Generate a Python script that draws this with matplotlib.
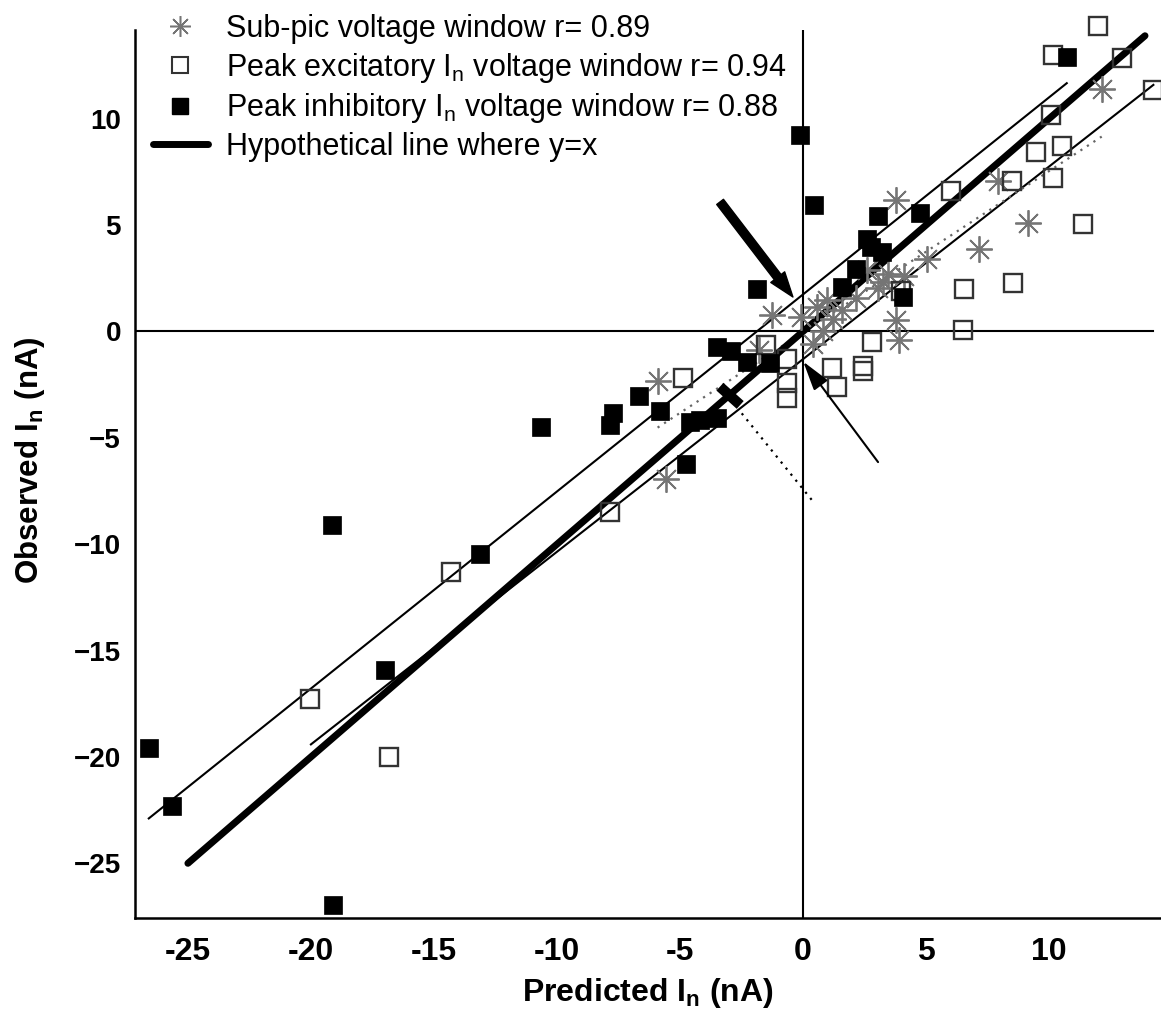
import matplotlib
matplotlib.use('Agg')
import matplotlib.pyplot as plt
from matplotlib.lines import Line2D

plt.rcParams['font.family'] = ['Liberation Sans', 'DejaVu Sans']
plt.rcParams['mathtext.default'] = 'regular'

# Sub-pic voltage window (asterisks)
sub_x = [12.17, 7.91, 9.13, 7.15, 5.03, 3.76, 3.77, 3.92, 4.10, 3.47, 3.27, 3.06,
         2.16, 1.23, 0.56, 0.83, 0.42, -0.08, 0.96, -1.24, -5.91, -5.58, -1.80,
         1.60, 2.60]
sub_y = [11.39, 7.08, 5.12, 3.86, 3.42, 6.20, 0.54, -0.40, 2.63, 2.72, 2.34, 2.03,
         1.58, 0.58, 1.13, 0.03, -0.60, 0.66, 1.48, 0.78, -2.31, -6.93, -0.87,
         1.00, 2.90]

# Peak excitatory In voltage window (open squares)
exc_x = [12.00, 10.18, 12.95, 14.24, 10.07, 9.46, 10.52, 8.51, 10.18, 6.02, 11.39,
         6.54, 8.55, 6.52, 2.79, 4.00, 1.17, 2.43, 2.43, 1.37, -0.66, -0.66, -0.66,
         -1.50, -4.89, -7.85, -14.31, -20.04, -16.83]
exc_y = [14.36, 13.00, 12.84, 11.35, 10.18, 8.45, 8.74, 7.08, 7.23, 6.60, 5.04,
         2.00, 2.27, 0.07, -0.51, 1.90, -1.73, -1.63, -1.85, -2.62, -1.31, -2.44,
         -3.14, -0.63, -2.20, -8.47, -11.30, -17.28, -20.00]

# Peak inhibitory In voltage window (filled squares)
inh_x = [-26.60, -25.65, -19.10, -19.15, -17.00, -13.13, -10.65, -7.85, -7.72,
         -6.67, -5.81, -4.77, -4.59, -4.19, -3.51, -3.51, -2.94, -2.29, -1.34,
         -1.88, -0.12, 0.45, 1.57, 2.15, 2.59, 2.75, 3.20, 3.06, 4.08, 4.76, 10.72]
inh_y = [-19.60, -22.30, -26.96, -9.10, -15.90, -10.46, -4.49, -4.40, -3.83,
         -3.02, -3.74, -6.24, -4.27, -4.16, -4.08, -0.71, -0.90, -1.42, -1.50,
         1.98, 9.24, 5.95, 2.11, 2.92, 4.33, 3.95, 3.75, 5.44, 1.64, 5.56, 12.89]

# identity line and fitted lines (end points)
ident = [-25.0, 13.9]
fit_upper_x = [-26.59, 10.72]
fit_upper_y = [-22.89, 11.67]
fit_lower_x = [-20.00, 14.24]
fit_lower_y = [-19.41, 11.59]
fit_sub_x = [-5.91, 12.14]
fit_sub_y = [-4.52, 9.16]
perp_x = [-2.49, 0.49]
perp_y = [-3.85, -8.11]
tick_x = [-3.22, -2.71]
tick_y = [-2.76, -3.29]

xticks = [-25, -20, -15, -10, -5, 0, 5, 10]
xtick_labels = ['-25', '-20', '-15', '-10', '-5', '0', '5', '10']
yticks = [-25, -20, -15, -10, -5, 0, 5, 10]

fig = plt.figure(figsize=(11.61, 10.17), dpi=100)
ax = fig.add_axes([135 / 1161, 99 / 1017, 1026 / 1161, 888 / 1017])

ax.axhline(0, color='black', lw=1.5, xmax=0.992, zorder=1)
ax.axvline(0, color='black', lw=1.5, zorder=1)

ax.plot(fit_upper_x, fit_upper_y, color='black', lw=1.5, zorder=2)
ax.plot(fit_lower_x, fit_lower_y, color='black', lw=1.5, zorder=2)
ax.plot(fit_sub_x, fit_sub_y, color='#666666', lw=1.6, ls=(0, (1, 2.5)), zorder=2)
ax.plot(perp_x, perp_y, color='black', lw=1.6, ls=(0, (1, 2.5)), zorder=2)
ax.plot(ident, ident, color='black', lw=5, solid_capstyle='round', zorder=3)
ax.plot(tick_x, tick_y, color='black', lw=7.5, zorder=3)

# arrows pointing at the crossing of the fitted lines
ax.annotate('', xy=(-0.41, 1.62), xytext=(-3.37, 6.09),
            arrowprops=dict(arrowstyle='simple,head_length=1.0,head_width=0.7,tail_width=0.34',
                            mutation_scale=18, color='black', shrinkA=0, shrinkB=0),
            zorder=6)
ax.annotate('', xy=(0.01, -1.42), xytext=(3.05, -6.14),
            arrowprops=dict(arrowstyle='-|>,head_length=1.2,head_width=0.35',
                            mutation_scale=15, color='black', lw=1.5,
                            shrinkA=0, shrinkB=0),
            zorder=6)

ax.plot(sub_x, sub_y, ls='none', marker=(8, 2, 0), ms=19, mew=1.3,
        color='#757575', zorder=4, clip_on=False)
ax.plot(exc_x, exc_y, ls='none', marker='s', ms=12.5, mew=1.7,
        mfc='none', mec='#333333', zorder=4, clip_on=False)
ax.plot(inh_x, inh_y, ls='none', marker='s', ms=13.5, mew=0.5,
        mfc='black', mec='black', zorder=5, clip_on=False)

ax.set_xlim(-27.15, 14.55)
ax.set_ylim(-27.57, 14.17)
ax.set_xticks(xticks)
ax.set_xticklabels(xtick_labels)
ax.set_yticks(yticks)
ax.tick_params(length=0)
ax.tick_params(axis='y', pad=10)
ax.tick_params(axis='x', pad=14)
for lab in ax.get_yticklabels():
    lab.set_fontsize(20)
    lab.set_fontweight('bold')
for lab in ax.get_xticklabels():
    lab.set_fontsize(23)
    lab.set_fontweight('bold')

for side in ['top', 'right']:
    ax.spines[side].set_visible(False)
for side in ['left', 'bottom']:
    ax.spines[side].set_linewidth(1.8)

ax.set_xlabel('Predicted I$_n$ (nA)', fontsize=23, fontweight='bold', labelpad=6)
ax.set_ylabel('Observed I$_n$ (nA)', fontsize=22.5, fontweight='bold')
ax.yaxis.set_label_coords(-0.086, 0.516)

handles = [
    Line2D([], [], ls='none', marker=(8, 2, 0), ms=15, mew=1.1, color='#757575'),
    Line2D([], [], ls='none', marker='s', ms=11, mew=1.5, mfc='none', mec='#333333'),
    Line2D([], [], ls='none', marker='s', ms=12, mfc='black', mec='black'),
    Line2D([], [], color='black', lw=5, solid_capstyle='round'),
]
labels = [
    'Sub-pic voltage window r= 0.89',
    'Peak excitatory I$_n$ voltage window r= 0.94',
    'Peak inhibitory I$_n$ voltage window r= 0.88',
    'Hypothetical line where y=x',
]
ax.legend(handles, labels, loc='upper left', bbox_to_anchor=(0.0175, 1.018),
          frameon=False, fontsize=22, handlelength=1.8, handletextpad=0.6,
          labelspacing=0.22, borderaxespad=0, borderpad=0)

fig.savefig('out.png', dpi=100)
